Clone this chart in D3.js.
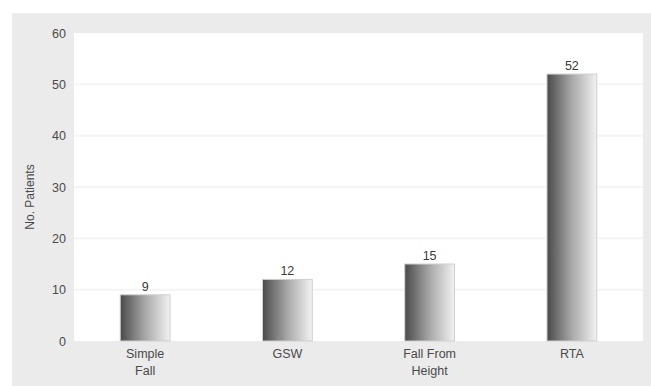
<!DOCTYPE html>
<html><head><meta charset="utf-8">
<script src="https://cdn.jsdelivr.net/npm/d3@7"></script>
<style>body{margin:0;background:#fff}svg{display:block}</style>
</head><body>
<script>
const categories = [["Simple","Fall"],["GSW"],["Fall From","Height"],["RTA"]];
const values = [9, 12, 15, 52];
const yTicks = [0, 10, 20, 30, 40, 50, 60];
const yTitle = "No. Patients";

const W = 651, H = 386;
const m = {left: 74, right: 8, top: 33, bottom: 45};
const svg = d3.select("body").append("svg").attr("width", W).attr("height", H);
const font = "'Liberation Sans', Arial, sans-serif";

svg.append("rect").attr("x", 12).attr("y", 13).attr("width", W - 12).attr("height", H - 13).attr("fill", "#ebebeb");
svg.append("rect").attr("x", m.left).attr("y", m.top).attr("width", W - m.right - m.left).attr("height", H - m.bottom - m.top).attr("fill", "#fff");

const x = d3.scaleBand().domain(d3.range(values.length)).range([m.left, W - m.right]).paddingInner(0.65).paddingOuter(0.325);
const y = d3.scaleLinear().domain([0, 60]).range([H - m.bottom, m.top]);

const defs = svg.append("defs");
const g = defs.append("linearGradient").attr("id", "bg").attr("x1", "0").attr("x2", "1").attr("y1", "0").attr("y2", "0");
g.append("stop").attr("offset", "0").attr("stop-color", "#4a4a4a");
g.append("stop").attr("offset", "0.5").attr("stop-color", "#a8a8a8");
g.append("stop").attr("offset", "1").attr("stop-color", "#f2f2f2");

// gridlines
svg.append("g").selectAll("line").data(yTicks.filter(t => t > 0 && t < 60)).join("line")
  .attr("x1", m.left).attr("x2", W - m.right).attr("y1", d => y(d)).attr("y2", d => y(d))
  .attr("stroke", "#f4f4f4").attr("stroke-width", 2);

// y axis
const ya = svg.append("g").attr("transform", `translate(${m.left},0)`)
  .call(d3.axisLeft(y).tickValues(yTicks).tickSize(0).tickPadding(8));
ya.select(".domain").remove();
ya.selectAll("text").attr("font-family", font).attr("font-size", 12.5).attr("fill", "#4a4a4a");

svg.append("text").attr("transform", `translate(34,${(m.top + H - m.bottom) / 2 + 10}) rotate(-90)`)
  .attr("text-anchor", "middle").attr("font-family", font).attr("font-size", 12).attr("fill", "#4a4a4a").text(yTitle);

// bars
svg.append("g").selectAll("rect").data(values).join("rect")
  .attr("x", (d, i) => x(i)).attr("width", x.bandwidth())
  .attr("y", d => y(d)).attr("height", d => y(0) - y(d))
  .attr("fill", "url(#bg)").attr("stroke", "#cfcfcf").attr("stroke-width", 1);

svg.append("g").selectAll("text").data(values).join("text")
  .attr("x", (d, i) => x(i) + x.bandwidth() / 2).attr("y", d => y(d) - 4)
  .attr("text-anchor", "middle").attr("font-family", font).attr("font-size", 12.5).attr("fill", "#3a3a3a").text(d => d);

// x axis labels
const xa = svg.append("g").selectAll("text").data(categories).join("text")
  .attr("text-anchor", "middle").attr("font-family", font).attr("font-size", 12.5).attr("fill", "#4a4a4a")
  .attr("x", (d, i) => x(i) + x.bandwidth() / 2).attr("y", H - m.bottom + 17);
xa.selectAll("tspan").data(d => d).join("tspan")
  .attr("x", function() { return this.parentNode.getAttribute("x"); })
  .attr("dy", (d, i) => i === 0 ? 0 : 17).text(d => d);
</script>
</body></html>
